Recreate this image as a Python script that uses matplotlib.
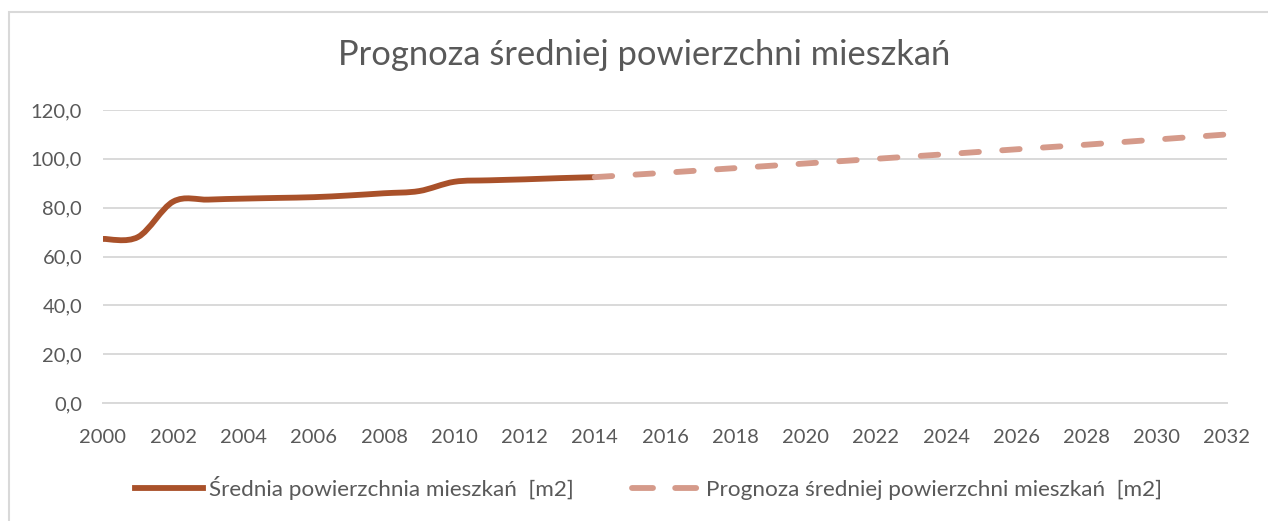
"""
Prognoza sredniej powierzchni mieszkan - Excel-style line chart.
"""

import matplotlib
matplotlib.use("Agg")
import matplotlib.pyplot as plt
from matplotlib.path import Path
from matplotlib.patches import PathPatch, Rectangle
from matplotlib.lines import Line2D

# Data
years_actual = [2000, 2001, 2002, 2003, 2004, 2005, 2006, 2007,
                2008, 2009, 2010, 2011, 2012, 2013, 2014]
area_actual = [67.2, 68.0, 82.5, 83.3, 83.7, 84.0, 84.3, 85.0,
               85.9, 86.8, 90.6, 91.2, 91.6, 92.1, 92.5]

years_forecast = [2014, 2016, 2018, 2020, 2022, 2024, 2026, 2028, 2030, 2032]
area_forecast = [92.5, 94.3, 96.2, 98.1, 100.0, 101.9, 103.9, 105.8, 107.9, 110.0]

y_ticks = [0, 20, 40, 60, 80, 100, 120]
x_ticks = list(range(2000, 2033, 2))

title = "Prognoza średniej powierzchni mieszkań"
label_actual = "Średnia powierzchnia mieszkań  [m2]"
label_forecast = "Prognoza średniej powierzchni mieszkań  [m2]"

TEXT = "#595959"
GRID = "#d9d9d9"
C_ACTUAL = "#a9512a"
C_FORECAST = "#d59a8a"
LW = 4.2

plt.rcParams["font.family"] = ["Lato", "DejaVu Sans"]


def smooth_path(xs, ys):
    # Catmull-Rom style bezier, like Excel's "smoothed line"
    pts = list(zip(xs, ys))
    verts = [pts[0]]
    codes = [Path.MOVETO]
    n = len(pts)
    for i in range(n - 1):
        p0 = pts[i - 1] if i > 0 else pts[i]
        p1 = pts[i]
        p2 = pts[i + 1]
        p3 = pts[i + 2] if i + 2 < n else pts[i + 1]
        c1 = (p1[0] + (p2[0] - p0[0]) / 6, p1[1] + (p2[1] - p0[1]) / 6)
        c2 = (p2[0] - (p3[0] - p1[0]) / 6, p2[1] - (p3[1] - p1[1]) / 6)
        verts += [c1, c2, p2]
        codes += [Path.CURVE4] * 3
    return Path(verts, codes)


fig = plt.figure(figsize=(12.68, 5.21), dpi=100)
ax = fig.add_axes([103 / 1268, 1 - 403 / 521, (1227 - 103) / 1268, (403 - 110) / 521])

# outer chart frame (only left/top visible in the crop)
fig.patches.append(Rectangle((9 / 1268, -0.1), 1.2, 0.1 + (1 - 11.5 / 521),
                             transform=fig.transFigure, fill=False,
                             edgecolor=GRID, linewidth=1.5))

ax.set_xlim(2000, 2032)
ax.set_ylim(0, 120)
ax.set_yticks(y_ticks)
ax.set_yticklabels([f"{v:.1f}".replace(".", ",") for v in y_ticks])
ax.set_xticks(x_ticks)
ax.tick_params(axis="both", length=0, colors=TEXT, labelsize=14.5)
ax.tick_params(axis="y", pad=15)
ax.tick_params(axis="x", pad=19)
ax.grid(axis="y", color=GRID, linewidth=1.4)
ax.set_axisbelow(True)
for side in ["left", "right", "top"]:
    ax.spines[side].set_visible(False)
ax.spines["bottom"].set_color(GRID)
ax.spines["bottom"].set_linewidth(1.4)

ax.add_patch(PathPatch(smooth_path(years_actual, area_actual), fill=False,
                       edgecolor=C_ACTUAL, linewidth=LW, capstyle="butt",
                       zorder=3))
ax.plot(years_forecast, area_forecast, color=C_FORECAST, linewidth=LW,
        linestyle=(0, (3.0, 4.0)), dash_capstyle="round", zorder=4)

fig.text(644 / 1268, 1 - 55 / 521, title, ha="center",
         va="center", fontsize=24.8, color=TEXT)

handles = [
    Line2D([], [], color=C_ACTUAL, linewidth=LW),
    Line2D([], [], color=C_FORECAST, linewidth=LW,
           linestyle=(0, (3.6, 3.8)), dash_capstyle="round"),
]
fig.legend(handles, [label_actual, label_forecast], loc="center",
           bbox_to_anchor=(0.5115, 1 - 488 / 521), ncol=2, frameon=False,
           fontsize=16.2, labelcolor=TEXT, handlelength=3.05,
           handletextpad=0.25, columnspacing=2.6)

fig.savefig("out.png", dpi=100)
